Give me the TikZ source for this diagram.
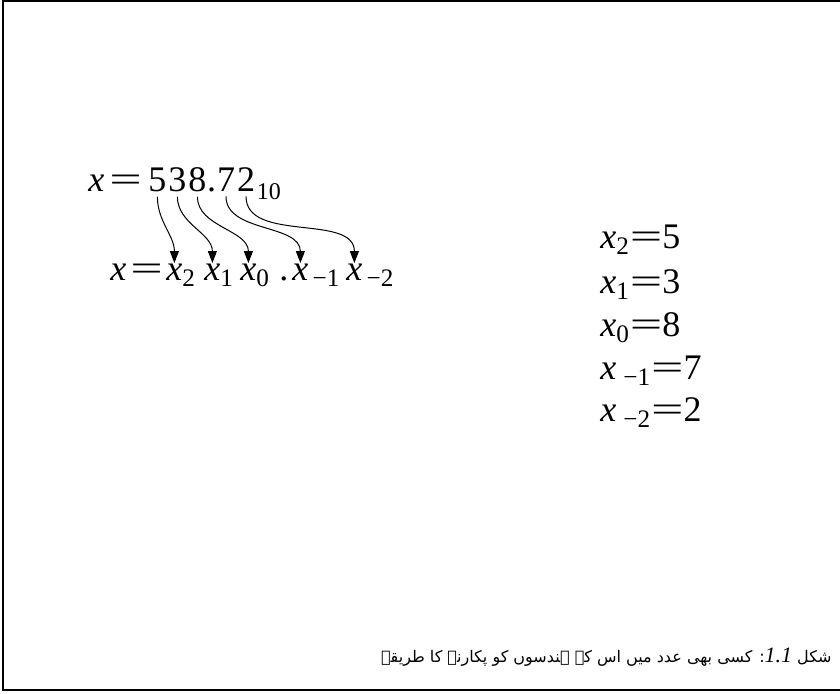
\documentclass[tikz,border=0pt]{standalone}
\usepackage{fontspec}
\setmainfont{Liberation Serif}
\newfontfamily\urdufont[Script=Arabic]{DejaVu Sans}
\TeXXeTstate=1
\usepackage{graphicx}
\usepackage{tikz}
\usetikzlibrary{arrows.meta, positioning}
\newcommand{\eqsign}{\scalebox{1.6}[1]{=}}
\newcommand{\mainsize}{\fontsize{18}{21}\selectfont}

\begin{document}
\begin{tikzpicture}[
  x=0.5pt, y=-0.5pt,
  sym/.style={inner sep=0pt, anchor=base west, font=\mainsize},
  subsym/.style={inner sep=0pt, anchor=base west, font=\fontsize{12}{14}\selectfont},
  digit/.style={sym, base right=0.6pt of #1},
  conn/.style={-{Triangle[length=6pt, width=4.5pt]}, line width=0.5pt, shorten <=2pt, shorten >=0.5pt},
  frame/.style={line width=0.8pt},
]
  \useasboundingbox (0,0) rectangle (840,694);
  \draw[frame] (840,1) -- (3,1) -- (3,690) -- (840,690);

  % the number
  \node[sym] (xa) at (88,192) {\itshape x};
  \node[sym] (eqa) at (109,192) {\eqsign};
  \node[sym] (d5) at (148,192) {5};
  \node[digit=d5] (d3) {3};
  \node[digit=d3] (d8) {8};
  \node[sym, base right=0pt of d8] (pa) {.};
  \node[sym, base right=0pt of pa] (d7) {7};
  \node[digit=d7] (d2) {2};
  \node[subsym, base right=0.5pt of d2, yshift=-4pt] (base) {10};

  % the digit names
  \node[sym] (xb) at (110,281) {\itshape x};
  \node[sym] (eqb) at (130,281) {\eqsign};
  \node[sym] (x2) at (166,281) {\itshape x\rlap{\textsubscript{\upshape 2}}};
  \node[sym] (x1) at (204,281) {\itshape x\rlap{\textsubscript{\upshape 1}}};
  \node[sym] (x0) at (240,281) {\itshape x\rlap{\textsubscript{\upshape 0}}};
  \node[sym] (pb) at (279,281) {.};
  \node[sym] (xm1) at (292,281) {\itshape x\rlap{\textsubscript{\upshape\,−1}}};
  \node[sym] (xm2) at (346,281) {\itshape x\rlap{\textsubscript{\upshape\,−2}}};

  \draw[conn] (d5.south) to[out=-90, in=90] (x2.north);
  \draw[conn] (d3.south) to[out=-90, in=90] (x1.north);
  \draw[conn] (d8.south) to[out=-90, in=90] (x0.north);
  \draw[conn] (d7.south) to[out=-90, in=90] (xm1.north);
  \draw[conn] (d2.south) to[out=-90, in=90] (xm2.north);

  % values
  \node[sym] (r2) at (600,249) {\itshape x\textsubscript{\upshape 2}\upshape\eqsign 5};
  \node[sym] (r1) at (600,294) {\itshape x\textsubscript{\upshape 1}\upshape\eqsign 3};
  \node[sym] (r0) at (600,337) {\itshape x\textsubscript{\upshape 0}\upshape\eqsign 8};
  \node[sym] (rm1) at (600,380) {\itshape x\textsubscript{\upshape\;−1}\upshape\eqsign 7};
  \node[sym] (rm2) at (600,422) {\itshape x\textsubscript{\upshape\;−2}\upshape\eqsign 2};

  % caption
  \node[inner sep=0pt, anchor=base east, font=\urdufont\fontsize{8}{10}\selectfont] (cap) at (832,662)
    {\beginR شکل \beginL{\rmfamily\itshape\fontsize{11}{13}\selectfont 1.1}\endL: کسی بھی عدد میں اس کے ہندسوں کو پکارنے کا طریقہ\endR};
\end{tikzpicture}
\end{document}
